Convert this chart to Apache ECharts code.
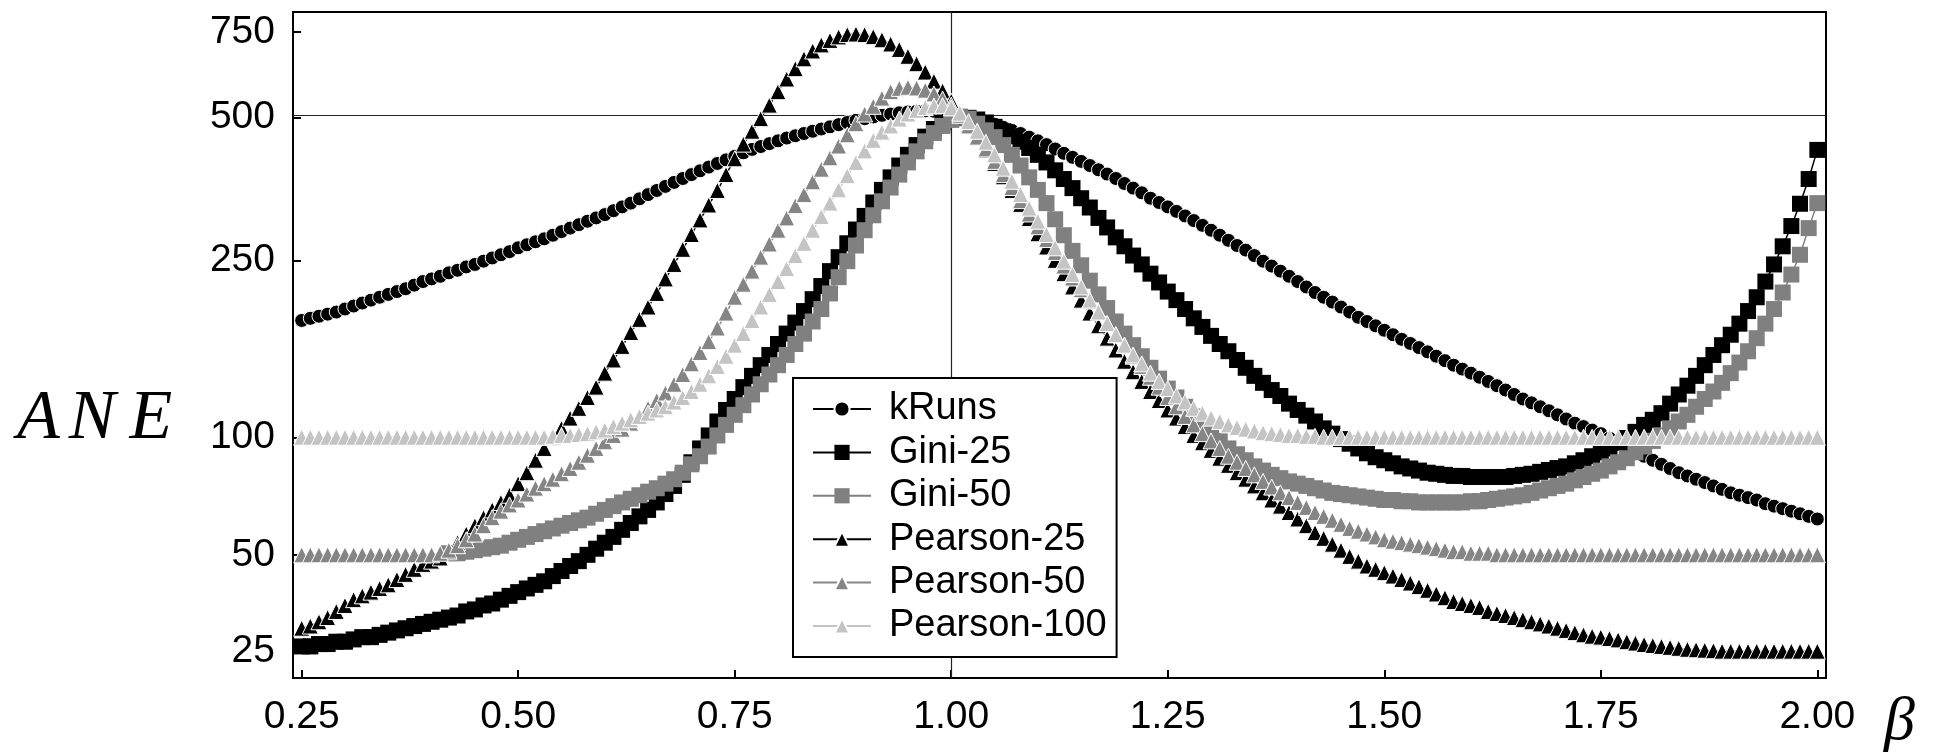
<!DOCTYPE html>
<html>
<head>
<meta charset="utf-8">
<script src="https://cdn.jsdelivr.net/npm/echarts@6/dist/echarts.min.js"></script>
<style>
html,body{margin:0;padding:0;background:#fff;}
#chart{width:1939px;height:752px;}
</style>
</head>
<body>
<div id="chart"></div>
<script>
// ---- data ----
const BETA = [
0.25,0.26,0.27,0.28,0.29,0.30,0.31,0.32,0.33,0.34,
0.35,0.36,0.37,0.38,0.39,0.40,0.41,0.42,0.43,0.44,
0.45,0.46,0.47,0.48,0.49,0.50,0.51,0.52,0.53,0.54,
0.55,0.56,0.57,0.58,0.59,0.60,0.61,0.62,0.63,0.64,
0.65,0.66,0.67,0.68,0.69,0.70,0.71,0.72,0.73,0.74,
0.75,0.76,0.77,0.78,0.79,0.80,0.81,0.82,0.83,0.84,
0.85,0.86,0.87,0.88,0.89,0.90,0.91,0.92,0.93,0.94,
0.95,0.96,0.97,0.98,0.99,1.00,1.01,1.02,1.03,1.04,
1.05,1.06,1.07,1.08,1.09,1.10,1.11,1.12,1.13,1.14,
1.15,1.16,1.17,1.18,1.19,1.20,1.21,1.22,1.23,1.24,
1.25,1.26,1.27,1.28,1.29,1.30,1.31,1.32,1.33,1.34,
1.35,1.36,1.37,1.38,1.39,1.40,1.41,1.42,1.43,1.44,
1.45,1.46,1.47,1.48,1.49,1.50,1.51,1.52,1.53,1.54,
1.55,1.56,1.57,1.58,1.59,1.60,1.61,1.62,1.63,1.64,
1.65,1.66,1.67,1.68,1.69,1.70,1.71,1.72,1.73,1.74,
1.75,1.76,1.77,1.78,1.79,1.80,1.81,1.82,1.83,1.84,
1.85,1.86,1.87,1.88,1.89,1.90,1.91,1.92,1.93,1.94,
1.95,1.96,1.97,1.98,1.99,2.00];

const K_RUNS = [
185,187,189,191,193,196,199,202,205,208,
211,214,217,221,225,228,231,235,238,242,
245,249,253,257,261,266,270,274,278,283,
288,293,298,303,308,313,319,325,331,338,
345,352,359,366,373,380,387,394,401,408,
415,422,429,435,441,447,453,458,463,468,
473,478,483,488,493,497,501,505,508,511,
513,515,516,515,513,510,506,501,496,490,
484,477,470,463,455,447,439,430,421,413,
405,397,389,381,373,364,356,348,339,332,
325,318,311,304,297,290,283,276,269,263,
256,249,243,237,231,225,219,213,208,203,
198,193,188,184,180,176,172,168,164.5,161,
157.5,154,150.5,147,144,141,138,135,132,129,
126,123,120.5,118,115.5,113,110.5,108,106,104,
102,99.5,97,94.5,92,90,88,86,84,82,
80.5,79,77.5,76,74.5,73,72,71,70,68.5,
67.5,66.5,65.5,64.5,63.5,62.5];

const GINI_25 = [
26,26,26.5,26.5,27,27,27.5,28,28,28.5,
29,29.5,30,30.5,31,31.5,32,32.5,33,34,
34.5,35.5,36,37,38,39,40,41,42,43.5,
45,46.5,48,50,52,54,56,58.5,61,63.5,
66,69,72.5,76,81,87,94,101,109,116,
123,131,139,147,155,164,173,183,194,206,
220,237,254,272,291,311,332,353,375,397,
418,438,456,473,487,496,500,499,495,488,
478,468,457,445,432,418,403,388,372,356,
339,324,308,294,280,268,256,245,234,224,
214,205,196,187,179,171,164,158,151,145,
139,134,129,125,120,116,112.5,109,105,102,
99,96.5,94,91.5,89.5,88,86.5,85,84,83,
82,81.5,81,80.5,80.5,80,80,80,80,80,
80.5,81,81.5,82.4,83.3,84.2,85,86.5,88,90,
92,94,97,99.6,103,107,110,114,120,126,
132,139,147,155,163,172,182,194,208,225,
245,268,296,330,372,428];

// Gini-50 has no points below beta = 0.42
const GINI_50 = [
null,null,null,null,null,null,null,null,null,null,
null,null,null,null,null,null,null,50.5,50.5,51,
51.5,52,52.5,53,54,55,56,57,58,59,
60,61,62,63,64.5,66,67.5,69,70.5,72,
73.5,75,77,79,82,86,90,95,101,107,
113,119,126,133,140,147,155,164,173,184,
196,212,230,249,269,290,312,334,357,380,
403,425,446,464,480,494,502,497,485,470,
455,438,418,397,375,353,331,306,283,262,
244,226,211,197,184,173,163,154,145,137,
130,124,118,112,107,102,98,94,91,88,
85,83,81,79.5,78,77,76,75,74,73,
72.5,72,71.5,71,70.5,70,70,69.5,69.5,69,
69,69,69,69,69,69.5,69.5,70,70.5,71,
71.5,72,73,74,75,76,77,78.5,80,81.5,
83,85,87,89,92,95,98,101,105,109,
113,118,123,128,134,141,149,158,169,182,
196,213,233,257,293,331];

const PEARSON_25 = [
30,30.5,31.5,32.5,34,35.5,37,38,39,40,
41,42.5,44,45.5,47,48,49,51,54,57,
60,63,66,69,72,77,82,88,94,100,
105,111,117,124,131,141,151,162,174,186,
198,212,228,245,264,284,305,328,352,380,
410,440,468,497,530,565,600,630,660,685,
705,720,732,740,742,740,733,722,708,690,
668,645,620,594,567,540,512,484,456,428,
401,376,352,329,307,285,267,250,234,219,
205,192,180,169,159,150,142,135,128,122,
116,111,106,101,97,93,89,85.5,82,79,
76,73,70,67.5,65,62.5,60,57.5,55.5,53.5,
51.5,49.5,48,46.5,45.5,44.5,43.5,42.5,41.5,40.5,
39.5,38.5,37.5,36.5,36,35.5,35,34,33.5,33,
32.5,32,31.5,31,30.5,30,29.5,29,28.5,28.2,
28,27.7,27.4,27,26.7,26.4,26.2,26,25.8,25.6,
25.4,25.3,25.2,25.1,25,25,25,25,25,25,
25,25,25,25,25,25];

const PEARSON_50 = [
50,50,50,50,50,50,50,50,50,50,
50,50,50,50,50,50,50.5,51.5,53,55,
57,60,63,65.5,68,70,72.5,75,77,79,
81.5,84,87,90.5,94,97.5,101,104.5,108,112,
117,122,127,133,140,148,157,166,178,192,
208,222,237,254,271,290,308,327,345,367,
390,412,436,460,485,508,527,548,565,574,
577,575,569,559,546,530,505,480,455,430,
405,380,357,335,314,295,277,260,243,229,
216,204,193,182,172,163,154,146,138,131,
124,118,112,107,102,98,94,90,87,84,
81,78,75.5,73,71,69,67,65,63.5,62,
60.5,59,58,57,56,55,54.5,54,53.5,53,
52.5,52,51.5,51,51,50.5,50.5,50.5,50,50,
50,50,50,50,50,50,50,50,50,50,
50,50,50,50,50,50,50,50,50,50,
50,50,50,50,50,50,50,50,50,50,
50,50,50,50,50,50];

const PEARSON_100 = [
100,100,100,100,100,100,100,100,100,100,
100,100,100,100,100,100,100,100,100,100,
100,100,100,100,100,100,100,100,100,100.5,
101,101,101.5,102,103,104,106,108,110,112,
114,116,118,121,124,128,133,139,146,154,
163,173,185,198,211,225,240,256,272,290,
310,331,353,378,403,426,448,466,480,496,
508,517,524,528,529,523,510,490,468,444,
418,392,368,345,323,303,284,266,249,233,
219,205,193,182,172,163,155,148,141,135,
130,125,121,117,114,111,109,107,105.5,104.5,
103.5,102.5,102,101.5,101,101,100.5,100.5,100,100,
100,100,100,100,100,100,100,100,100,100,
100,100,100,100,100,100,100,100,100,100,
100,100,100,100,100,100,100,100,100,100,
100,100,100,100,100,100,100,100,100,100,
100,100,100,100,100,100,100,100,100,100,
100,100,100,100,100,100];

const SERIES_NAMES = ['kRuns','Gini-25','Gini-50','Pearson-25','Pearson-50','Pearson-100'];
const X_TICKS = [0.25,0.50,0.75,1.00,1.25,1.50,1.75,2.00];
const Y_TICKS = [25,50,100,250,500,750];
const REF_X = 1.00;
const REF_Y = 500;
const X_RANGE = [0.24, 2.01];
const Y_RANGE = [19.8, 823];

// ---- chart ----
// vertical scale of the original figure: log(ANE + 20)
const SHIFT = 20;
const f = v => (v == null ? null : Math.log10(v + SHIFT));

const VALUES = [K_RUNS, GINI_25, GINI_50, PEARSON_25, PEARSON_50, PEARSON_100];
const STYLES = [
  {symbol:'circle',   size:14, color:'#000000', border:1},
  {symbol:'rect',     size:16, color:'#000000', border:0},
  {symbol:'rect',     size:16, color:'#808080', border:0},
  {symbol:'triangle', size:16, color:'#000000', border:1},
  {symbol:'triangle', size:16, color:'#858585', border:1},
  {symbol:'triangle', size:16, color:'#c4c4c4', border:1}
];

const series = SERIES_NAMES.map((name, k) => {
  const st = STYLES[k];
  const s = {
    name: name,
    type: 'line',
    data: BETA.map((b, i) => [b, f(VALUES[k][i])]),
    symbol: st.symbol,
    symbolSize: st.size,
    showSymbol: true,
    showAllSymbol: true,
    connectNulls: false,
    itemStyle: {color: st.color, borderColor: '#fff', borderWidth: st.border},
    lineStyle: {color: st.color, width: 1.5},
    emphasis: {disabled: true},
    z: 2 + k
  };
  if (k === 0) {
    s.markLine = {
      silent: true,
      symbol: 'none',
      z: 1,
      label: {show: false},
      lineStyle: {color: '#222', width: 1.2, type: 'solid'},
      data: [{yAxis: f(REF_Y)}, {xAxis: REF_X}]
    };
  }
  return s;
});

const chart = echarts.init(document.getElementById('chart'), null, {renderer: 'canvas'});
const FONT = 'Liberation Sans, Arial, sans-serif';
const SERIF = 'Liberation Serif, serif';

chart.setOption({
  animation: false,
  backgroundColor: '#fff',
  grid: {left: 293, right: 113, top: 12, bottom: 74, show: true, borderColor: '#000', borderWidth: 2, backgroundColor: 'transparent'},
  xAxis: {
    type: 'value', min: X_RANGE[0], max: X_RANGE[1],
    axisLine: {show: true, lineStyle: {color: '#000', width: 2}},
    axisTick: {show: true, inside: true, length: 8, lineStyle: {color: '#000', width: 2}, customValues: X_TICKS},
    axisLabel: {customValues: X_TICKS, formatter: v => v.toFixed(2), fontSize: 39, color: '#000', fontFamily: FONT, margin: 20},
    splitLine: {show: false}
  },
  yAxis: {
    type: 'value', min: f(Y_RANGE[0]), max: f(Y_RANGE[1]),
    axisLine: {show: true, lineStyle: {color: '#000', width: 2}},
    axisTick: {show: true, inside: true, length: 8, lineStyle: {color: '#000', width: 2}, customValues: Y_TICKS.map(f)},
    axisLabel: {customValues: Y_TICKS.map(f), formatter: v => String(Math.round(Math.pow(10, v) - SHIFT)), fontSize: 39, color: '#000', fontFamily: FONT, margin: 18},
    splitLine: {show: false}
  },
  legend: {
    data: SERIES_NAMES,
    orient: 'vertical',
    left: 793, top: 378,
    padding: [12, 10, 12, 19],
    itemGap: 5.4,
    itemWidth: 58,
    itemHeight: 19,
    backgroundColor: '#fff',
    borderColor: '#000',
    borderWidth: 2,
    borderRadius: 0,
    selectedMode: false,
    textStyle: {fontSize: 38, color: '#000', fontFamily: FONT, padding: [0, 0, 0, 13]}
  },
  graphic: [
    {type: 'text', x: 17, y: 420, style: {
      text: '{a|A}{n|N}{e|E}', fill: '#000', align: 'left', verticalAlign: 'middle',
      fontSize: 70, fontStyle: 'italic', fontFamily: SERIF,
      rich: {
        a: {fontSize: 70, fontStyle: 'italic', fontFamily: SERIF, padding: [0, 9, 0, 0]},
        n: {fontSize: 70, fontStyle: 'italic', fontFamily: SERIF, padding: [0, 14, 0, 0]},
        e: {fontSize: 70, fontStyle: 'italic', fontFamily: SERIF}
      }
    }},
    {type: 'text', x: 1884, y: 723, style: {text: 'β', fontSize: 62, fontStyle: 'italic', fontFamily: SERIF, fill: '#000', align: 'left', verticalAlign: 'middle'}}
  ],
  series: series
});
</script>
</body>
</html>
